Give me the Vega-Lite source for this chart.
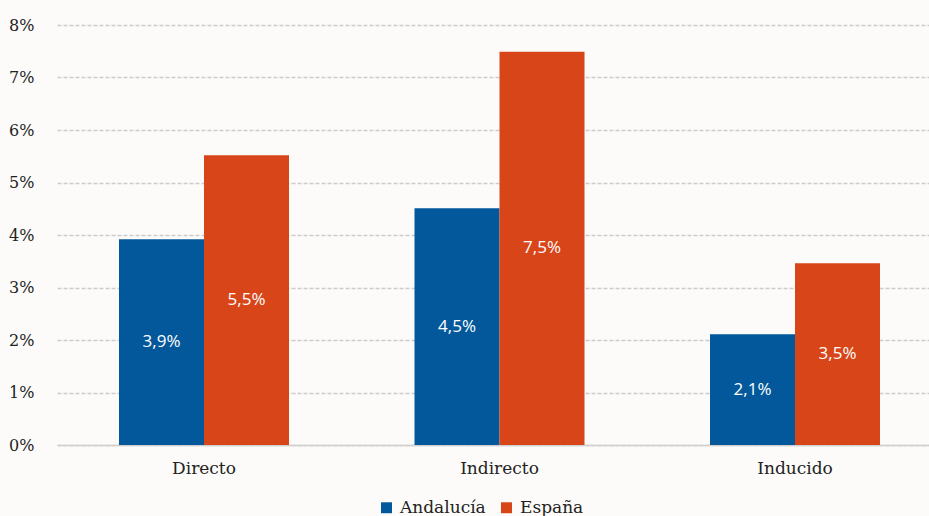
{
  "$schema": "https://vega.github.io/schema/vega-lite/v6.json",
  "autosize": {"type": "none"},
  "width": 872,
  "height": 420,
  "padding": {"left": 56, "top": 25, "right": 1, "bottom": 71},
  "background": "#fcfbf9",
  "config": {
    "locale": {"number": {"decimal": ",", "thousands": ".", "grouping": [3], "currency": ["", " €"]}},
    "view": {"stroke": null},
    "font": "DejaVu Serif"
  },
  "data": {
    "values": [
      {"tipo": "Directo", "region": "Andalucía", "valor": 0.0392},
      {"tipo": "Directo", "region": "España", "valor": 0.0552},
      {"tipo": "Indirecto", "region": "Andalucía", "valor": 0.0451},
      {"tipo": "Indirecto", "region": "España", "valor": 0.0749},
      {"tipo": "Inducido", "region": "Andalucía", "valor": 0.0211},
      {"tipo": "Inducido", "region": "España", "valor": 0.0346}
    ]
  },
  "encoding": {
    "x": {
      "field": "tipo", "type": "nominal", "sort": ["Directo", "Indirecto", "Inducido"],
      "scale": {"range": [1, 886], "paddingInner": 0.4247, "paddingOuter": 0.2098},
      "axis": {"title": null, "labelAngle": 0, "ticks": false, "domain": true, "domainColor": "#cfcfcf", "domainWidth": 1.5,
               "labelFont": "DejaVu Serif", "labelFontSize": 17, "labelColor": "#222222", "labelPadding": 15, "grid": false}
    },
    "xOffset": {"field": "region", "type": "nominal", "sort": ["Andalucía", "España"], "scale": {"paddingInner": 0, "paddingOuter": 0}}
  },
  "layer": [
    {
      "mark": {"type": "bar"},
      "encoding": {
        "y": {
          "field": "valor", "type": "quantitative",
          "scale": {"domain": [0, 0.08], "nice": false},
          "axis": {"title": null, "format": ".0%", "values": [0, 0.01, 0.02, 0.03, 0.04, 0.05, 0.06, 0.07, 0.08],
                   "domain": false, "ticks": false, "labelFont": "DejaVu Serif", "labelFontSize": 16, "labelColor": "#222222",
                   "labelPadding": 22, "grid": true, "gridColor": "#cccccc", "gridWidth": 1.5, "gridDash": [4, 2]}
        },
        "color": {
          "field": "region", "type": "nominal",
          "scale": {"domain": ["Andalucía", "España"], "range": ["#02589b", "#d84519"]},
          "legend": {
            "title": null, "orient": "none", "direction": "horizontal", "legendX": 322, "legendY": 474,
            "symbolType": "square", "symbolSize": 120, "symbolStrokeWidth": 0, "labelFont": "DejaVu Serif",
            "labelFontSize": 17, "labelColor": "#222222", "columnPadding": 12, "symbolOffset": 0, "labelOffset": 5
          }
        }
      }
    },
    {
      "mark": {"type": "text", "color": "white", "font": "Open Sans", "fontSize": 17, "baseline": "middle"},
      "encoding": {
        "y": {"field": "valor", "type": "quantitative", "scale": {"domain": [0, 0.16], "nice": false}, "axis": null},
        "text": {"field": "valor", "type": "quantitative", "format": ".1%"}
      }
    }
  ],
  "resolve": {"scale": {"y": "independent"}}
}
